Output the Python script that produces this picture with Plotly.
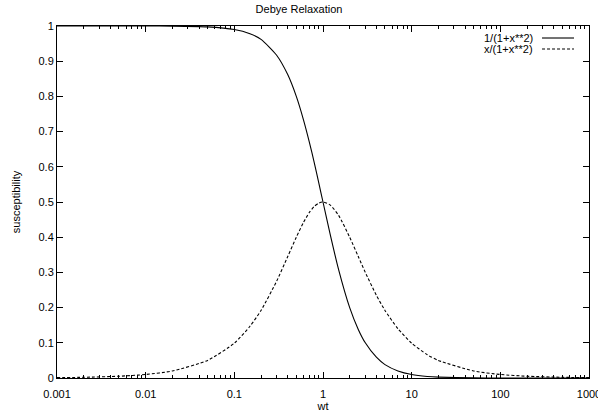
import plotly.graph_objects as go

# Values
wt = [0.001, 0.002, 0.005, 0.01, 0.02, 0.05, 0.1, 0.15, 0.2, 0.3, 0.4, 0.5, 0.6, 0.7,
      0.8, 0.9, 1, 1.2, 1.5, 2, 2.5, 3, 4, 5, 7, 10, 15, 20, 50, 100, 200, 500, 1000]
real_part = [1.0, 1.0, 1.0, 0.9999, 0.9996, 0.9975, 0.990, 0.978, 0.962, 0.917, 0.862,
             0.800, 0.735, 0.671, 0.610, 0.552, 0.500, 0.410, 0.308, 0.200, 0.138, 0.100,
             0.059, 0.038, 0.020, 0.0099, 0.0044, 0.0025, 0.0004, 0.0001, 0.0, 0.0, 0.0]
imag_part = [0.001, 0.002, 0.005, 0.010, 0.020, 0.050, 0.099, 0.147, 0.192, 0.275, 0.345,
             0.400, 0.441, 0.470, 0.488, 0.497, 0.500, 0.492, 0.462, 0.400, 0.345, 0.300,
             0.235, 0.192, 0.140, 0.099, 0.066, 0.050, 0.020, 0.010, 0.005, 0.002, 0.001]
series_names = ["1/(1+x**2)", "x/(1+x**2)"]
y_ticks = [0, 0.1, 0.2, 0.3, 0.4, 0.5, 0.6, 0.7, 0.8, 0.9, 1]
x_ticks = [0.001, 0.01, 0.1, 1, 10, 100, 1000]
x_ticklabels = ["0.001", "0.01", "0.1", "1", "10", "100", "1000"]

FONT = "Liberation Sans, Arial, sans-serif"

fig = go.Figure()
fig.add_trace(go.Scatter(x=wt, y=real_part, mode="lines", name=series_names[0],
                         line=dict(color="black", width=1.1, shape="spline", smoothing=0.6),
                         showlegend=False, hoverinfo="skip"))
fig.add_trace(go.Scatter(x=wt, y=imag_part, mode="lines", name=series_names[1],
                         line=dict(color="black", width=1.1, dash="3px,2px", shape="spline", smoothing=0.6),
                         showlegend=False, hoverinfo="skip"))

# gnuplot-style key: text then line sample
rows = [(0.9659, "solid"), (0.9347, "3px,2px")]
for (yy, dash), name in zip(rows, series_names):
    fig.add_annotation(x=0.8985, y=yy, xref="paper", yref="paper", text=name,
                       showarrow=False, xanchor="right", yanchor="middle",
                       font=dict(family=FONT, size=11, color="black"))
    fig.add_shape(type="line", xref="paper", yref="paper", x0=0.9117, x1=0.9718, y0=yy, y1=yy,
                  line=dict(color="black", width=1.1, dash=dash))

axis_common = dict(showline=True, linecolor="black", linewidth=1, mirror="ticks",
                   ticks="inside", tickcolor="black", showgrid=False, zeroline=False,
                   automargin=False, ticklabeloverflow="allow",
                   tickfont=dict(family=FONT, size=11, color="black"))

fig.update_xaxes(type="log", range=[-3, 3], tickvals=x_ticks, ticktext=x_ticklabels,
                 ticklen=6, tickwidth=1, ticklabelstandoff=6,
                 minor=dict(ticks="inside", ticklen=3, tickcolor="black", dtick="D1", showgrid=False),
                 title=dict(text="wt", font=dict(family=FONT, size=11, color="black"), standoff=1),
                 **axis_common)
fig.update_yaxes(range=[0, 1], tickvals=y_ticks, ticklen=6, tickwidth=1,
                 title=dict(text="susceptibility", font=dict(family=FONT, size=11, color="black"), standoff=15),
                 **axis_common)

fig.update_layout(
    width=598, height=418,
    margin=dict(l=57, r=9, t=26, b=40),
    paper_bgcolor="white", plot_bgcolor="white",
    title=dict(text="Debye Relaxation", x=0.5, xanchor="center", y=0.978, yanchor="middle",
               font=dict(family=FONT, size=11, color="black")),
    font=dict(family=FONT, size=11, color="black"),
)

fig.write_html("out.html", config={"displayModeBar": False},
               post_script="document.body.style.margin='0';")
